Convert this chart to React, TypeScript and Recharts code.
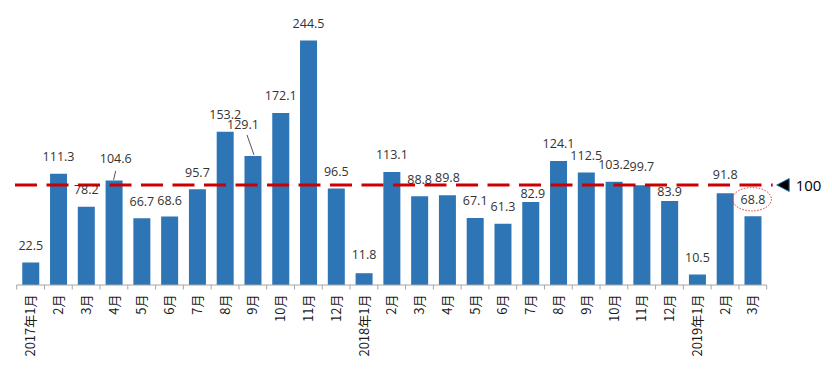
import React from "react";
import { BarChart, Bar, XAxis, YAxis, ReferenceLine } from "recharts";

const months = [
  "2017年1月", "2月", "3月", "4月", "5月", "6月", "7月", "8月", "9月", "10月", "11月", "12月",
  "2018年1月", "2月", "3月", "4月", "5月", "6月", "7月", "8月", "9月", "10月", "11月", "12月",
  "2019年1月", "2月", "3月",
];
const values = [
  22.5, 111.3, 78.2, 104.6, 66.7, 68.6, 95.7, 153.2, 129.1, 172.1, 244.5, 96.5,
  11.8, 113.1, 88.8, 89.8, 67.1, 61.3, 82.9, 124.1, 112.5, 103.2, 99.7, 83.9,
  10.5, 91.8, 68.8,
];
const referenceValue = 100;
const referenceLabel = "100";
const highlightIndex = 26;

const data = months.map((m, i) => ({ key: i, month: m, value: values[i] }));

const W = 832;
const H = 376;
const ML = 16.7;
const MR = 65.3;
const BW = (W - ML - MR) / months.length;

// label placement adjustments (style only)
const labelAdjust: Record<number, { dx: number; dy: number; leader?: [number, number, number, number] }> = {
  3: { dx: 1.6, dy: -4.4, leader: [1.6, -9.5, -0.5, -0.5] },
  5: { dx: 0, dy: 1.3 },
  8: { dx: -10, dy: -14, leader: [-6, -21, 1, -1] },
  12: { dx: 0, dy: -1.5 },
  15: { dx: 0, dy: -1 },
  18: { dx: 2, dy: 8.5 },
  22: { dx: 0, dy: -2 },
  23: { dx: 0, dy: 7.5 },
  25: { dx: 0, dy: -2 },
};

const BarLabel = (props: any) => {
  const { x, y, width, value, index } = props;
  const cx = x + width / 2;
  const adj = labelAdjust[index] || { dx: 0, dy: 0 };
  const centerY = y - 17 + adj.dy;
  const lx = cx + adj.dx;
  return (
    <g>
      {adj.leader && (
        <line
          x1={cx + adj.leader[0]}
          y1={y + adj.leader[1]}
          x2={cx + adj.leader[2]}
          y2={y + adj.leader[3]}
          stroke="#404040"
          strokeWidth={0.9}
        />
      )}
      <text
        x={lx}
        y={centerY + 4.4}
        textAnchor="middle"
        fontSize={12.5}
        fontFamily="'Open Sans', 'Noto Sans', sans-serif"
        fill="#333333"
      >
        {value}
      </text>
      {index === highlightIndex && (
        <ellipse
          cx={lx - 1}
          cy={centerY}
          rx={19.5}
          ry={11.7}
          fill="none"
          stroke="#E0303A"
          strokeWidth={1}
          strokeDasharray="1.5 1.5"
        />
      )}
    </g>
  );
};

const MonthTick = (props: any) => {
  const { x, y, payload, index } = props;
  const left = x - BW / 2;
  const right = x + BW / 2;
  const ty = y + 9.5;
  return (
    <g>
      <line x1={left} y1={y} x2={left} y2={y + 4.5} stroke="#a6a6a6" strokeWidth={1} />
      {index === months.length - 1 && (
        <line x1={right} y1={y} x2={right} y2={y + 4.5} stroke="#a6a6a6" strokeWidth={1} />
      )}
      <text
        x={x}
        y={ty}
        transform={`rotate(-90, ${x}, ${ty})`}
        textAnchor="end"
        dy="0.36em"
        fontSize={13}
        fontFamily="'Noto Sans CJK SC', 'Open Sans', sans-serif"
        fill="#1a1a1a"
      >
        {payload.value}
      </text>
    </g>
  );
};

const RefShape = (props: any) => {
  const { x1, y1, x2, y2 } = props;
  const xs = x1 - 1.7;
  const xe = x2 + 6;
  return (
    <g>
      <line
        x1={xs}
        y1={y1}
        x2={xe}
        y2={y2}
        stroke="#CC0000"
        strokeWidth={3}
        strokeDasharray="22 9.5"
      />
      <polygon
        points={`${x2 + 10},${y2} ${x2 + 22.5},${y2 - 6.5} ${x2 + 22.5},${y2 + 6.5}`}
        fill="#000000"
        stroke="#2E75B6"
        strokeWidth={1}
      />
      <text
        x={x2 + 29}
        y={y2 + 5.5}
        fontSize={15}
        fontFamily="'Open Sans', 'Noto Sans', sans-serif"
        fill="#000000"
      >
        {referenceLabel}
      </text>
    </g>
  );
};

export default function App() {
  return (
    <div style={{ position: "absolute", left: 0, top: 0, width: W, height: H, background: "#ffffff" }}>
      <BarChart
        width={W}
        height={H}
        data={data}
        margin={{ top: 5, right: MR, bottom: 0, left: ML }}
        barCategoryGap="20%"
      >
        <XAxis
          dataKey="key"
          interval={0}
          tick={(p: any) => <MonthTick {...p} payload={{ value: months[p.payload.value] }} />}
          tickLine={false}
          tickSize={0}
          tickMargin={0}
          height={91}
          axisLine={{ stroke: "#a6a6a6", strokeWidth: 1 }}
        />
        <YAxis hide domain={[0, 280]} width={0} />
        <Bar
          dataKey="value"
          fill="#2E75B6"
          isAnimationActive={false}
          label={<BarLabel />}
        />
        <ReferenceLine y={referenceValue} shape={<RefShape />} />
      </BarChart>
    </div>
  );
}
